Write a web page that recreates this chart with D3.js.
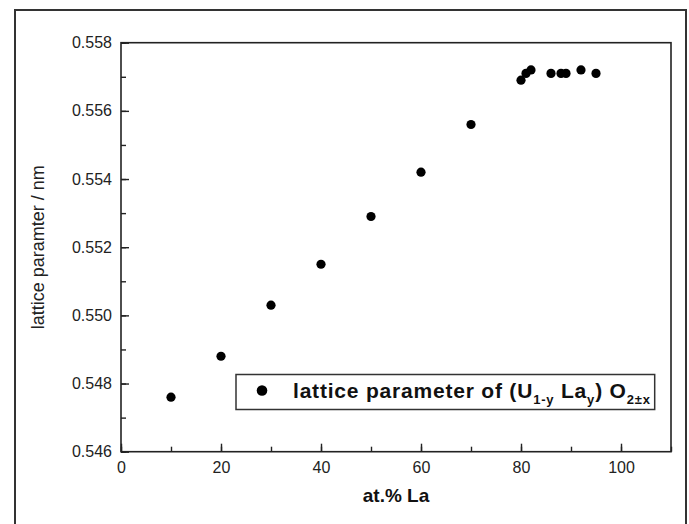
<!DOCTYPE html>
<html>
<head>
<meta charset="utf-8">
<script src="https://cdn.jsdelivr.net/npm/d3@7"></script>
<style>
  html, body { margin: 0; padding: 0; background: #fff; }
  svg { display: block; font-family: "Liberation Sans", Arial, sans-serif; }
</style>
</head>
<body>
<svg id="chart" width="689" height="524"></svg>
<script>
// ---- data ----
const laPercent = [10, 20, 30, 40, 50, 60, 70, 80, 81, 82, 86, 88, 89, 92, 95];
const latticeParam = [0.5476, 0.5488, 0.5503, 0.5515, 0.5529, 0.5542, 0.5556,
                      0.5569, 0.5571, 0.5572, 0.5571, 0.5571, 0.5571, 0.5572, 0.5571];
const xTickValues = [0, 20, 40, 60, 80, 100];
const yTickValues = [0.546, 0.548, 0.550, 0.552, 0.554, 0.556, 0.558];
const xTitle = "at.% La";
const yTitle = "lattice paramter / nm";

// ---- layout ----
const svg = d3.select("#chart");
const mLeft = 121, mRight = 671, mTop = 42.7, mBottom = 451.7;

const x = d3.scaleLinear().domain([0, 110]).range([mLeft, mRight]);
const y = d3.scaleLinear().domain([0.546, 0.558]).range([mBottom, mTop]);

// outer frame
svg.append("rect")
  .attr("x", 15).attr("y", 10).attr("width", 671).attr("height", 530)
  .attr("fill", "#fff").attr("stroke", "#333").attr("stroke-width", 2);

// plot box
svg.append("rect")
  .attr("x", mLeft).attr("y", mTop).attr("width", mRight - mLeft).attr("height", mBottom - mTop)
  .attr("fill", "none").attr("stroke", "#222").attr("stroke-width", 1.6);

// x axis (ticks inward)
const xMinor = d3.range(0, 111, 10);
const gx = svg.append("g").attr("transform", `translate(0,${mBottom})`);
gx.call(d3.axisBottom(x).tickValues(xMinor).tickSize(-5).tickFormat(""))
  .call(g => g.select(".domain").remove());
gx.append("g").call(d3.axisBottom(x).tickValues(xTickValues).tickSize(-8).tickPadding(10).tickFormat(d3.format("d")))
  .call(g => g.select(".domain").remove());
gx.selectAll("line").attr("stroke", "#222").attr("stroke-width", 1.4);
gx.selectAll("text").attr("font-size", 16).attr("fill", "#222")
  .attr("font-family", "Liberation Sans, Arial, sans-serif");

// y axis (ticks inward)
const yMinor = d3.range(0, 13).map(i => 0.546 + i * 0.001);
const gy = svg.append("g").attr("transform", `translate(${mLeft},0)`);
gy.call(d3.axisLeft(y).tickValues(yMinor).tickSize(-5).tickFormat(""))
  .call(g => g.select(".domain").remove());
gy.append("g").call(d3.axisLeft(y).tickValues(yTickValues).tickSize(-8).tickPadding(9).tickFormat(d3.format(".3f")))
  .call(g => g.select(".domain").remove());
gy.selectAll("line").attr("stroke", "#222").attr("stroke-width", 1.4);
gy.selectAll("text").attr("font-size", 16).attr("fill", "#222")
  .attr("font-family", "Liberation Sans, Arial, sans-serif");

// axis titles
svg.append("text")
  .attr("x", (mLeft + mRight) / 2).attr("y", 502)
  .attr("text-anchor", "middle").attr("font-size", 19).attr("font-weight", "bold")
  .attr("fill", "#111").text(xTitle);
svg.append("text")
  .attr("transform", `translate(44,${(mTop + mBottom) / 2}) rotate(-90)`)
  .attr("text-anchor", "middle").attr("font-size", 18)
  .attr("fill", "#222").text(yTitle);

// points
svg.append("g").selectAll("circle")
  .data(laPercent.map((d, i) => [d, latticeParam[i]]))
  .join("circle")
  .attr("cx", d => x(d[0])).attr("cy", d => y(d[1]))
  .attr("r", 4.6).attr("fill", "#000");

// legend
const lg = svg.append("g");
const lbox = lg.append("rect")
  .attr("x", 236).attr("y", 374.5).attr("height", 35)
  .attr("fill", "#fff").attr("stroke", "#333").attr("stroke-width", 1.5);
lg.append("circle").attr("cx", 262).attr("cy", 390.5).attr("r", 5.3).attr("fill", "#000");
const lt = lg.append("text").attr("x", 293).attr("y", 397.5)
  .attr("font-size", 21).attr("font-weight", "bold").attr("fill", "#111")
  .attr("letter-spacing", 0.8);
lt.append("tspan").text("lattice parameter of (U");
lt.append("tspan").attr("font-size", 13).attr("dy", 6).text("1-y");
lt.append("tspan").attr("dy", -6).text(" La");
lt.append("tspan").attr("font-size", 13).attr("dy", 6).text("y");
lt.append("tspan").attr("dy", -6).text(") O");
lt.append("tspan").attr("font-size", 13).attr("dy", 6).text("2±x");
const bb = lt.node().getBBox();
lbox.attr("width", Math.min(bb.x + bb.width + 4, mRight - 12) - 236);
</script>
</body>
</html>
